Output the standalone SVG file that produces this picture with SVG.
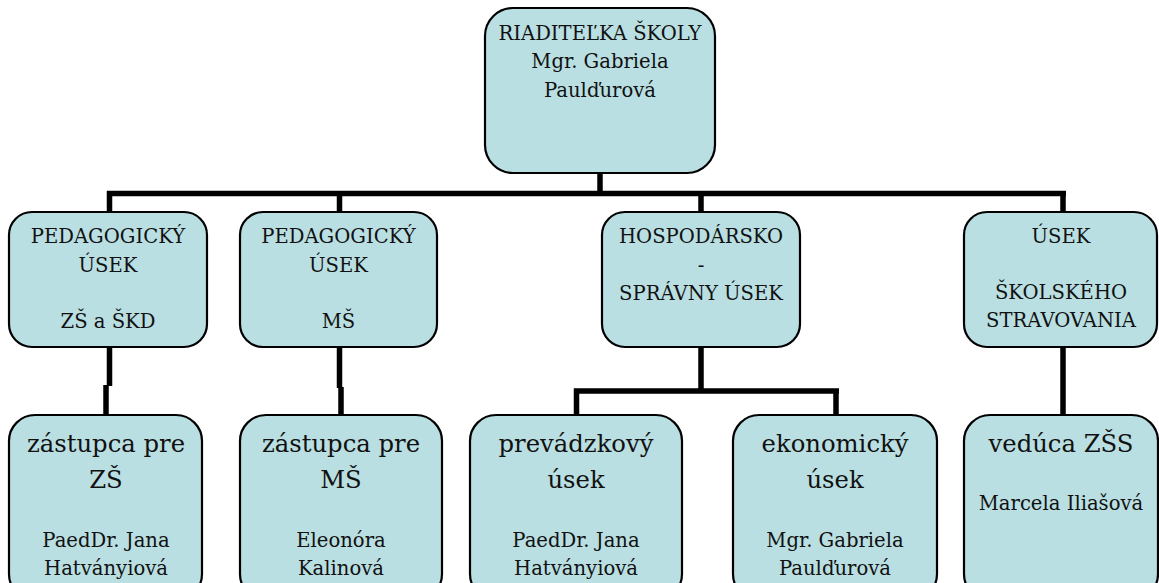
<svg xmlns="http://www.w3.org/2000/svg" width="1159" height="583" viewBox="0 0 1159 583">
<style>
.box{fill:#b9dfe2;stroke:#000;stroke-width:2.2}
.t{font-family:"DejaVu Serif","Liberation Serif",serif;font-size:19.6px;fill:#111;text-anchor:middle}
.b{font-size:24.3px}
.c{fill:none;stroke:#000;stroke-width:5.5;stroke-linecap:butt;stroke-linejoin:miter}
</style>
<rect width="1159" height="583" fill="#fff"/>
<g id="connectors">
<path class="c" d="M600 173V193.5M107 193.5H1066M109.5 191V212M339.5 193.5V212M701 193.5V212M1063 191V212"/>
<path class="c" d="M109.5 347V386M106 385V415"/>
<path class="c" d="M339.5 347V388M341 387V415"/>
<path class="c" d="M701 347V391M574 391H839M576.5 388.5V415M836 388.5V415"/>
<path class="c" d="M1063 347V415"/>
</g>
<g id="riaditelka">
<rect class="box" x="485" y="8" width="230" height="165" rx="28"/>
<text class="t" x="600" y="40">RIADITEĽKA ŠKOLY</text>
<text class="t" x="600" y="68">Mgr. Gabriela</text>
<text class="t" x="600" y="97">Paulďurová</text>
</g>
<g id="ped-zs">
<rect class="box" x="9" y="212" width="198" height="135" rx="23"/>
<text class="t" x="108" y="243">PEDAGOGICKÝ</text>
<text class="t" x="108" y="272">ÚSEK</text>
<text class="t" x="108" y="328">ZŠ a ŠKD</text>
</g>
<g id="ped-ms">
<rect class="box" x="240" y="212" width="197" height="135" rx="23"/>
<text class="t" x="338.5" y="243">PEDAGOGICKÝ</text>
<text class="t" x="338.5" y="272">ÚSEK</text>
<text class="t" x="338.5" y="328">MŠ</text>
</g>
<g id="hosp">
<rect class="box" x="602" y="212" width="198" height="135" rx="23"/>
<text class="t" x="701" y="243">HOSPODÁRSKO</text>
<text class="t" x="701" y="272">-</text>
<text class="t" x="701" y="300">SPRÁVNY ÚSEK</text>
</g>
<g id="strav">
<rect class="box" x="964" y="212" width="193" height="135" rx="23"/>
<text class="t" x="1061" y="243">ÚSEK</text>
<text class="t" x="1061" y="299">ŠKOLSKÉHO</text>
<text class="t" x="1061" y="327">STRAVOVANIA</text>
</g>
<g id="zast-zs">
<rect class="box" x="9" y="415" width="193" height="185" rx="26"/>
<text class="t b" x="106" y="452">zástupca pre</text>
<text class="t b" x="106" y="488">ZŠ</text>
<text class="t" x="106" y="547">PaedDr. Jana</text>
<text class="t" x="106" y="575">Hatványiová</text>
</g>
<g id="zast-ms">
<rect class="box" x="240" y="415" width="202" height="185" rx="26"/>
<text class="t b" x="341" y="452">zástupca pre</text>
<text class="t b" x="341" y="488">MŠ</text>
<text class="t" x="341" y="547">Eleonóra</text>
<text class="t" x="341" y="575">Kalinová</text>
</g>
<g id="prevadzkovy">
<rect class="box" x="470" y="415" width="212" height="185" rx="26"/>
<text class="t b" x="576" y="452">prevádzkový</text>
<text class="t b" x="576" y="488">úsek</text>
<text class="t" x="576" y="547">PaedDr. Jana</text>
<text class="t" x="576" y="575">Hatványiová</text>
</g>
<g id="ekonomicky">
<rect class="box" x="733" y="415" width="204" height="185" rx="26"/>
<text class="t b" x="835" y="452">ekonomický</text>
<text class="t b" x="835" y="488">úsek</text>
<text class="t" x="835" y="547">Mgr. Gabriela</text>
<text class="t" x="835" y="575">Paulďurová</text>
</g>
<g id="veduca">
<rect class="box" x="964" y="415" width="194" height="185" rx="26"/>
<text class="t b" x="1061" y="452">vedúca ZŠS</text>
<text class="t" x="1061" y="510">Marcela Iliašová</text>
</g>
</svg>
